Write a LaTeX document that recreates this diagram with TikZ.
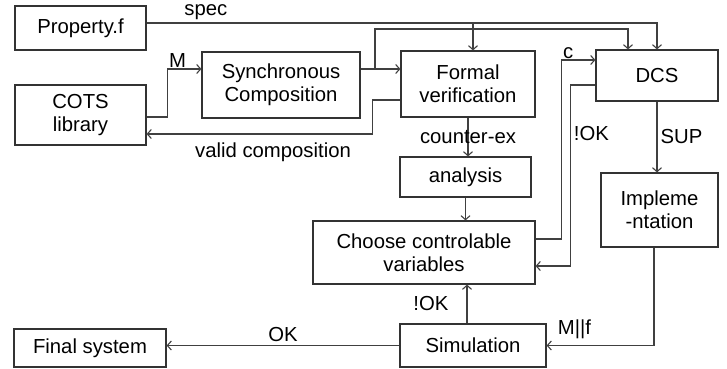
\documentclass[tikz,border=0pt]{standalone}
\usepackage{fontspec}
\setmainfont{Liberation Sans}
\usetikzlibrary{positioning, arrows.meta, calc}

\begin{document}
\begin{tikzpicture}[
        x=1pt, y=-1pt,
        >={Straight Barb[length=4pt, width=9pt]},
        line width=1.1pt,
        font=\fontsize{20.3}{23}\selectfont,
        block/.style={draw=black!80, rectangle, align=center, inner sep=0pt, line width=1.2pt},
        link/.style={->, draw=black!75},
        tag/.style={inner sep=3pt, text=black},
    ]
        \useasboundingbox (0,0) rectangle (727,368);

        % Draw the boxes
        \node[block, minimum width=131pt, minimum height=44pt] (prop) at (80.5,28) {Property.f};
        \node[block, minimum width=131pt, minimum height=60pt] (cots) at (80.5,115) {COTS\\library};
        \node[block, minimum width=158pt, minimum height=66pt] (sync) at (281,85) {Synchronous\\Composition};
        \node[block, minimum width=134pt, minimum height=66pt] (fv) at (468,84) {Formal\\verification};
        \node[block, minimum width=122pt, minimum height=51pt] (dcs) at (657,75.5) {DCS};
        \node[block, minimum width=131pt, minimum height=40pt] (ana) at (465.5,177) {analysis};
        \node[block, minimum width=222pt, minimum height=63pt] (choose) at (424,252.5) {Choose controlable\\variables};
        \node[block, minimum width=117pt, minimum height=74pt] (impl) at (659.5,210) {Impleme\\-ntation};
        \node[block, minimum width=146pt, minimum height=43pt] (sim) at (473,345.5) {Simulation};
        \node[block, minimum width=152pt, minimum height=38pt] (final) at (90,348) {Final system};

        % Junction points
        \coordinate (spec) at ([yshift=5pt]prop.east);
        \coordinate (fvin) at ([xshift=5pt]fv.north);
        \coordinate (synout) at ([yshift=16pt]sync.east);
        \coordinate (j1) at (375,69);
        \coordinate (bend2) at (375,29);
        \coordinate (dcsin) at ([xshift=-29pt]dcs.north);

        % Property and composition towards verification and DCS
        \draw[link] (spec) -| (dcs.north) node[tag, pos=0.058, above] {spec};
        \draw[link] (fvin |- spec) -- (fvin);
        \draw[link] (synout) -- (synout -| fv.west);
        \draw[link] (j1) -- (bend2) -| (dcsin);
        \draw[link] ([yshift=-2pt]cots.east) -- ++(21,0) |- ([yshift=16pt]sync.west)
            node[tag, pos=0.5, above right, inner sep=1pt] {M};
        \draw[link] ([yshift=-16pt]fv.west) -- ++(-28,0) |- ([yshift=-19pt]cots.east)
            node[tag, pos=0.72, below, inner sep=8pt] {valid composition};

        % Verification loop
        \draw[link] (fv.south) -- (fv.south |- ana.north) node[tag, midway] {counter-ex};
        \draw[link] (ana.south) -- (ana.south |- choose.north);
        \draw[link] ([yshift=13.5pt]choose.east) -- ++(26,0) |- ([yshift=15.5pt]dcs.west)
            node[tag, pos=0.5, above right, inner sep=1pt] {c};
        \draw[link] ([yshift=-9.5pt]dcs.west) -- ++(-25,0) |- ([yshift=-13.5pt]choose.east)
            node[tag, pos=0.135, right] {!OK};

        % Implementation and simulation
        \draw[link] (dcs.south) -- (dcs.south |- impl.north) node[tag, midway, right] {SUP};
        \draw[link] ([xshift=-5.5pt]impl.south) |- (sim.east) node[tag, pos=0.87, above, inner sep=6pt] {M||f};
        \draw[link] ([xshift=-6pt]sim.north) -- ([xshift=-6pt]sim.north |- choose.south)
            node[tag, midway, left, inner sep=18pt] {!OK};
        \draw[link] (sim.west) -- (sim.west -| final.east) node[tag, midway, above] {OK};
\end{tikzpicture}
\end{document}
